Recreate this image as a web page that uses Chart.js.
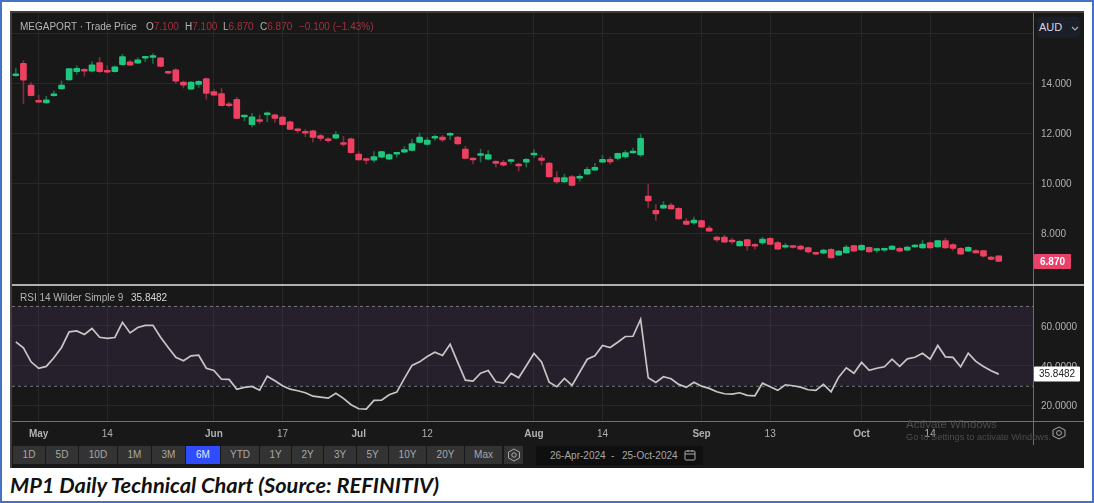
<!DOCTYPE html>
<html>
<head>
<meta charset="utf-8">
<title>MP1 Daily Technical Chart</title>
<script src="https://cdn.jsdelivr.net/npm/chart.js@4"></script>
<style>
  html, body { margin: 0; padding: 0; background: #fff; }
  #page { position: relative; width: 1094px; height: 503px; overflow: hidden; font-family: "Liberation Sans", Arial, sans-serif; }
  #frame { position: absolute; left: 0; top: 0; width: 1090px; height: 499px; border: 2px solid #4472c4; }
  #panel { position: absolute; left: 10px; top: 12px; width: 1074px; height: 456px; background: #181818; }
  canvas { position: absolute; display: block; }
  .line { position: absolute; }
  .txt { position: absolute; font-size: 10px; line-height: 12px; white-space: nowrap; color: #b4b4b4; }
  .txt b { font-weight: normal; color: #a5303f; }
  .btn { position: absolute; top: 446px; height: 18px; line-height: 18px; background: #333; color: #a8a8a8; font-size: 10px; text-align: center; }
  .btn.on { background: #2f4cff; color: #e6e8ff; }
  #aud { position: absolute; left: 1037px; top: 17px; width: 43px; height: 21px; line-height: 21px; border-radius: 4px; background: #1b1f29; color: #d4d8e0; font-size: 11px; }
  #range { position: absolute; left: 536px; top: 446px; width: 167px; height: 19px; line-height: 19px; background: #0f0f0f; color: #a8a8a8; font-size: 10px; }
  #caption { position: absolute; left: 10px; top: 471px; font: italic bold 21.8px Lato, sans-serif; color: #111; white-space: nowrap; }
</style>
</head>
<body>
<div id="page">
  <div id="frame"></div>
  <div id="panel"></div>
  <canvas id="graficoPreco" width="1072" height="273" style="left:12px;top:12px"></canvas>
  <canvas id="graficoRsi" width="1072" height="160" style="left:12px;top:285px"></canvas>

  <div class="line" style="left:1033px;top:12px;width:1px;height:433px;background:#6e6e6e"></div>
  <div class="line" style="left:10px;top:284px;width:1074px;height:2px;background:#b0b0b0"></div>
  <div class="line" style="left:10px;top:421px;width:1074px;height:1px;background:#707070"></div>
  <div class="line" style="left:10px;top:12px;width:2px;height:456px;background:#3e3e3e"></div>
  <div class="line" style="left:10px;top:11px;width:1074px;height:2px;background:#3e3e3e"></div>

  <span class="txt" style="left:20px;top:21px">MEGAPORT · Trade Price</span>
  <span class="txt" style="left:146px;top:21px">O<b>7.100</b></span>
  <span class="txt" style="left:185px;top:21px">H<b>7.100</b></span>
  <span class="txt" style="left:223px;top:21px">L<b>6.870</b></span>
  <span class="txt" style="left:260px;top:21px">C<b>6.870</b></span>
  <span class="txt" style="left:299px;top:21px"><b>−0.100 (−1.43%)</b></span>
  <span class="txt" style="left:20px;top:292px">RSI 14 Wilder Simple 9</span>
  <span class="txt" style="left:131px;top:292px;color:#d8d8d8">35.8482</span>

  <div id="aud"><span style="margin-left:2px">AUD</span>
    <svg width="8" height="5" style="position:absolute;left:34px;top:9px"><path d="M1 1 L4 4 L7 1" fill="none" stroke="#a8acb4" stroke-width="1.2"/></svg>
  </div>

  <div id="botoes"></div>
  <div class="btn" style="left:504px;width:19px">
    <svg width="14" height="14" style="margin-top:2px"><path d="M7 1 L12.5 4 L12.5 10 L7 13 L1.5 10 L1.5 4 Z" fill="none" stroke="#a8a8a8"/><circle cx="7" cy="7" r="2.2" fill="none" stroke="#a8a8a8"/></svg>
  </div>
  <div id="range">
    <span style="position:absolute;left:14px">26-Apr-2024</span>
    <span style="position:absolute;left:75px">-</span>
    <span style="position:absolute;left:86px">25-Oct-2024</span>
    <svg width="12" height="12" style="position:absolute;left:148px;top:3px"><rect x="1" y="2" width="10" height="9" rx="1" fill="none" stroke="#a8a8a8"/><path d="M1 5 H11 M4 1 V3 M8 1 V3" stroke="#a8a8a8"/></svg>
  </div>
  <svg width="16" height="16" style="position:absolute;left:1051px;top:425px"><path d="M8 2 L14 5 L14 11 L8 14 L2 11 L2 5 Z" fill="none" stroke="#a8a8a8"/><circle cx="8" cy="8" r="2.4" fill="none" stroke="#a8a8a8"/></svg>

  <span class="txt" style="left:906px;top:418px;font-size:11.5px;color:#4c4c4c">Activate Windows</span>
  <span class="txt" style="left:906px;top:431px;font-size:9.2px;color:#4c4c4c">Go to Settings to activate Windows.</span>

  <div id="caption">MP1 Daily Technical Chart (Source: REFINITIV)</div>
</div>

<script>
// Dados (MEGAPORT, 26-Abr a 25-Out-2024)
const opens = [
  14.30, 14.80, 13.93, 13.32, 13.21, 13.50, 13.77, 14.13, 14.46, 14.52,
  14.48, 14.83, 14.47, 14.46, 14.74, 14.86, 14.80, 15.00, 15.03, 15.02,
  14.47, 14.54, 14.05, 13.76, 13.95, 14.19, 13.67, 13.59, 13.16, 13.36,
  12.65, 12.34, 12.54, 12.74, 12.74, 12.65, 12.46, 12.14, 12.03, 12.10,
  11.91, 11.78, 11.80, 11.62, 11.78, 11.17, 10.99, 10.92, 11.04, 10.96,
  11.16, 11.24, 11.31, 11.63, 11.55, 11.80, 11.85, 11.92, 11.85, 11.37,
  10.99, 11.11, 10.96, 10.88, 10.84, 10.87, 10.77, 10.84, 11.13, 11.01,
  10.81, 10.23, 10.05, 10.27, 10.20, 10.36, 10.52, 10.84, 10.96, 10.99,
  11.05, 11.21, 11.13, 9.49, 8.92, 9.00, 9.13, 9.00, 8.49, 8.41,
  8.51, 8.21, 7.85, 7.85, 7.69, 7.49, 7.75, 7.56, 7.61, 7.80,
  7.63, 7.44, 7.47, 7.49, 7.43, 7.23, 7.20, 7.36, 7.12, 7.21,
  7.51, 7.33, 7.44, 7.31, 7.32, 7.35, 7.40, 7.32, 7.45, 7.41,
  7.63, 7.45, 7.71, 7.55, 7.40, 7.28, 7.31, 7.31, 7.05, 7.10
];
const closes = [
  14.33, 14.12, 13.50, 13.24, 13.34, 13.58, 13.93, 14.59, 14.60, 14.48,
  14.74, 14.46, 14.44, 14.66, 15.07, 14.72, 14.94, 15.03, 15.10, 14.67,
  14.40, 14.08, 13.92, 14.05, 14.08, 13.59, 13.52, 13.10, 13.10, 12.59,
  12.67, 12.66, 12.47, 12.80, 12.59, 12.34, 12.15, 12.10, 12.00, 11.83,
  11.79, 11.70, 11.95, 11.55, 11.22, 10.93, 10.91, 11.07, 11.27, 11.15,
  11.18, 11.35, 11.59, 11.85, 11.73, 11.84, 11.73, 11.99, 11.57, 10.99,
  10.93, 11.13, 11.15, 10.79, 10.72, 10.89, 10.69, 10.96, 11.21, 10.91,
  10.25, 10.05, 10.23, 9.91, 10.24, 10.56, 10.64, 10.96, 10.85, 11.20,
  11.23, 11.27, 11.80, 9.29, 8.77, 9.13, 8.97, 8.57, 8.35, 8.53,
  8.24, 8.08, 7.73, 7.64, 7.65, 7.68, 7.49, 7.48, 7.77, 7.55,
  7.36, 7.49, 7.43, 7.36, 7.25, 7.16, 7.33, 7.01, 7.29, 7.45,
  7.28, 7.52, 7.25, 7.35, 7.35, 7.49, 7.28, 7.45, 7.49, 7.57,
  7.41, 7.71, 7.41, 7.39, 7.16, 7.44, 7.21, 7.08, 6.95, 6.87
];
const highs = [
  14.60, 14.90, 14.03, 13.52, 13.48, 13.69, 14.09, 14.60, 14.70, 14.59,
  14.86, 15.03, 14.70, 14.70, 15.16, 14.92, 15.02, 15.03, 15.19, 15.03,
  14.48, 14.59, 14.09, 14.07, 14.11, 14.21, 13.76, 13.79, 13.25, 13.44,
  12.67, 12.80, 12.73, 12.85, 12.77, 12.69, 12.49, 12.21, 12.15, 12.13,
  11.95, 11.83, 12.07, 11.88, 11.82, 11.27, 11.00, 11.27, 11.28, 11.19,
  11.20, 11.47, 11.77, 12.01, 11.83, 11.93, 11.91, 12.03, 11.87, 11.48,
  11.01, 11.36, 11.31, 10.91, 10.92, 10.97, 10.80, 10.99, 11.35, 11.12,
  10.84, 10.47, 10.36, 10.32, 10.35, 10.64, 10.80, 11.12, 11.05, 11.21,
  11.31, 11.41, 11.96, 9.96, 9.15, 9.27, 9.21, 9.03, 8.59, 8.65,
  8.53, 8.29, 7.88, 7.92, 7.81, 7.71, 7.76, 7.59, 7.84, 7.83,
  7.68, 7.59, 7.49, 7.53, 7.45, 7.25, 7.36, 7.39, 7.32, 7.52,
  7.53, 7.55, 7.45, 7.40, 7.41, 7.52, 7.44, 7.48, 7.56, 7.72,
  7.65, 7.72, 7.80, 7.59, 7.43, 7.47, 7.36, 7.32, 7.08, 7.10
];
const lows = [
  14.27, 13.18, 13.49, 13.22, 13.20, 13.48, 13.76, 14.12, 14.36, 14.29,
  14.45, 14.43, 14.41, 14.44, 14.72, 14.70, 14.78, 14.86, 14.79, 14.66,
  14.37, 14.00, 13.81, 13.75, 13.83, 13.36, 13.49, 13.09, 13.05, 12.58,
  12.49, 12.25, 12.39, 12.46, 12.43, 12.33, 12.14, 12.02, 11.86, 11.64,
  11.70, 11.64, 11.79, 11.48, 11.20, 10.92, 10.77, 10.84, 11.01, 10.93,
  11.04, 11.23, 11.29, 11.61, 11.53, 11.72, 11.67, 11.75, 11.56, 10.97,
  10.77, 10.85, 10.93, 10.65, 10.69, 10.79, 10.49, 10.65, 11.03, 10.73,
  10.24, 9.99, 10.03, 9.89, 10.08, 10.35, 10.51, 10.83, 10.77, 10.93,
  11.00, 11.20, 11.07, 9.03, 8.51, 8.99, 8.96, 8.56, 8.33, 8.36,
  8.23, 8.07, 7.67, 7.63, 7.57, 7.48, 7.32, 7.36, 7.55, 7.53,
  7.35, 7.40, 7.40, 7.33, 7.20, 7.13, 7.17, 7.00, 7.11, 7.20,
  7.27, 7.31, 7.24, 7.23, 7.27, 7.33, 7.25, 7.29, 7.43, 7.40,
  7.40, 7.44, 7.40, 7.31, 7.15, 7.27, 7.19, 7.04, 6.93, 6.87
];
const rsi = [
  52.0, 49.0, 42.0, 38.7, 39.7, 44.0, 49.2, 57.0, 57.5, 55.7,
  58.7, 54.3, 53.8, 54.2, 61.8, 56.5, 59.2, 60.3, 60.3, 54.3,
  49.2, 44.3, 42.5, 45.0, 45.3, 38.8, 37.7, 33.3, 33.2, 28.2,
  29.2, 29.7, 27.8, 34.8, 32.5, 30.0, 28.3, 27.5, 26.5, 24.8,
  24.3, 23.8, 26.2, 23.7, 20.5, 18.5, 18.3, 22.7, 22.8, 25.5,
  26.8, 33.7, 40.2, 42.0, 44.7, 46.8, 45.2, 50.8, 41.7, 32.8,
  32.3, 36.3, 37.7, 32.0, 31.3, 36.2, 34.0, 40.0, 46.2, 42.0,
  31.8, 29.5, 33.7, 30.2, 36.8, 43.3, 45.0, 50.2, 49.2, 51.8,
  54.7, 54.8, 63.3, 34.0, 31.7, 34.5, 33.5, 30.7, 29.2, 31.8,
  29.8, 28.7, 27.0, 26.0, 25.8, 26.5, 25.2, 25.0, 31.3, 29.5,
  27.7, 30.5, 30.0, 29.3, 28.0, 27.7, 30.7, 27.0, 34.3, 39.0,
  36.3, 41.7, 37.7, 38.8, 39.5, 43.3, 39.7, 43.5, 44.3, 46.3,
  43.3, 50.2, 44.5, 44.2, 39.5, 46.3, 42.2, 39.7, 37.5, 35.8482
];

// Eixos
const tickIndices = [3, 12, 26, 35, 45, 54, 68, 77, 90, 99, 111, 120];
const tickTexts = ["May", "14", "Jun", "17", "Jul", "12", "Aug", "14", "Sep", "13", "Oct", "14"];
const priceTicks = [8, 10, 12, 14, 16];
const rsiTicks = [20, 40, 60];
const rsiBand = [30, 70];
const rangeButtons = ["1D", "5D", "10D", "1M", "3M", "6M", "YTD", "1Y", "2Y", "3Y", "5Y", "10Y", "20Y", "Max"];
const buttonEdges = [13, 46, 79, 118, 152, 186, 221, 260, 292, 324, 357, 389, 427, 465, 503];

const lastClose = closes[closes.length - 1];
const lastRsi = rsi[rsi.length - 1];

// 4 posições vazias à direita da última vela
const slots = Array.from({ length: 134 }, (_, i) => String(i));

const COR_ALTA = "#1fc77e";
const COR_BAIXA = "#ee4060";
const COR_PAVIO_ALTA = "#1b6b4b";
const COR_PAVIO_BAIXA = "#7e2c3e";
const COR_GRADE = "#272727";
const COR_TEXTO = "#b0b0b0";
const FONTE = "'Liberation Sans', Arial, sans-serif";

// Botões de período
const botoes = document.getElementById("botoes");
rangeButtons.forEach((nome, i) => {
  const b = document.createElement("div");
  b.className = nome === "6M" ? "btn on" : "btn";
  b.style.left = buttonEdges[i] + "px";
  b.style.width = (buttonEdges[i + 1] - buttonEdges[i] - 1) + "px";
  b.textContent = nome;
  botoes.appendChild(b);
});

// Sem folga automática: a área do gráfico ocupa o canvas inteiro
function semFolga(s) {
  s.paddingTop = 0;
  s.paddingBottom = 0;
  s.paddingLeft = 0;
  s.paddingRight = 0;
}

function eixoX(comRotulos) {
  return {
    type: "category",
    offset: true,
    afterBuildTicks: s => { s.ticks = tickIndices.map(v => ({ value: v })); },
    afterFit: s => { semFolga(s); s.height = comRotulos ? 24 : 0; },
    border: { display: false },
    grid: { color: COR_GRADE, offset: false, drawTicks: false },
    ticks: {
      display: comRotulos,
      autoSkip: false,
      maxRotation: 0,
      padding: 7,
      color: COR_TEXTO,
      font: ctx => ({
        family: FONTE,
        size: 10,
        weight: /\d/.test(tickTexts[ctx.index] || "") ? "normal" : "bold"
      }),
      callback: (v, i) => tickTexts[i]
    }
  };
}

function eixoY(min, max, valores, casas) {
  return {
    position: "right",
    min,
    max,
    afterBuildTicks: s => { s.ticks = valores.map(v => ({ value: v })); },
    afterFit: s => { semFolga(s); s.width = 1072 - 1021; },
    border: { display: false },
    grid: { color: COR_GRADE, drawTicks: false },
    ticks: {
      padding: 8,
      labelOffset: 1,
      color: COR_TEXTO,
      font: { family: FONTE, size: 10 },
      callback: v => v.toFixed(casas)
    }
  };
}

// Etiqueta do último valor sobre o eixo direito
function etiqueta(valor, casas, fundo, cor, largura, negrito) {
  return {
    id: "etiqueta",
    afterDraw(chart) {
      const { ctx, scales, chartArea } = chart;
      const y = scales.y.getPixelForValue(valor);
      ctx.save();
      ctx.fillStyle = fundo;
      ctx.beginPath();
      ctx.roundRect(chartArea.right + 1, y - 7.5, largura, 15, 1);
      ctx.fill();
      ctx.fillStyle = cor;
      ctx.font = (negrito ? "bold " : "") + "10px " + FONTE;
      ctx.textAlign = "center";
      ctx.textBaseline = "middle";
      ctx.fillText(valor.toFixed(casas), chartArea.right + 1 + largura / 2, y + 0.5);
      ctx.restore();
    }
  };
}

// Faixa 30-70 do RSI com as linhas pontilhadas
const faixaRsi = {
  id: "faixaRsi",
  beforeDatasetsDraw(chart) {
    const { ctx, scales, chartArea } = chart;
    const topo = scales.y.getPixelForValue(rsiBand[1]);
    const base = scales.y.getPixelForValue(rsiBand[0]);
    ctx.save();
    ctx.fillStyle = "rgba(84, 58, 110, 0.24)";
    ctx.fillRect(chartArea.left, topo, chartArea.width, base - topo);
    ctx.strokeStyle = "#777";
    ctx.setLineDash([3, 3]);
    [topo, base].forEach(y => {
      ctx.beginPath();
      ctx.moveTo(chartArea.left, y + 0.5);
      ctx.lineTo(chartArea.right, y + 0.5);
      ctx.stroke();
    });
    ctx.restore();
  }
};

// ---------- VELAS ----------
new Chart(document.getElementById("graficoPreco"), {
  type: "bar",
  data: {
    labels: slots,
    datasets: [
      {
        data: opens.map((o, i) => [o, closes[i]]),
        backgroundColor: opens.map((o, i) => closes[i] >= o ? COR_ALTA : COR_BAIXA),
        barThickness: 6,
        minBarLength: 2,
        grouped: false,
        borderRadius: 1,
        borderSkipped: false
      },
      {
        data: lows.map((l, i) => [l, highs[i]]),
        backgroundColor: opens.map((o, i) => closes[i] >= o ? COR_PAVIO_ALTA : COR_PAVIO_BAIXA),
        barThickness: 1,
        grouped: false
      }
    ]
  },
  options: {
    responsive: false,
    animation: false,
    layout: { padding: 0 },
    plugins: { legend: { display: false }, tooltip: { enabled: false } },
    scales: {
      x: eixoX(false),
      y: eixoY(5.93, 16.85, priceTicks, 3)
    }
  },
  plugins: [etiqueta(lastClose, 3, "#e8416a", "#fff", 37, true)]
});

// ---------- RSI ----------
new Chart(document.getElementById("graficoRsi"), {
  type: "line",
  data: {
    labels: slots,
    datasets: [{
      data: rsi,
      borderColor: "#c6c6c6",
      borderWidth: 1.7,
      pointRadius: 0,
      tension: 0
    }]
  },
  options: {
    responsive: false,
    animation: false,
    layout: { padding: 0 },
    plugins: { legend: { display: false }, tooltip: { enabled: false } },
    scales: {
      x: eixoX(true),
      y: eixoY(12.35, 80.5, rsiTicks, 4)
    }
  },
  plugins: [faixaRsi, etiqueta(lastRsi, 4, "#fff", "#222", 46, false)]
});
</script>
</body>
</html>
